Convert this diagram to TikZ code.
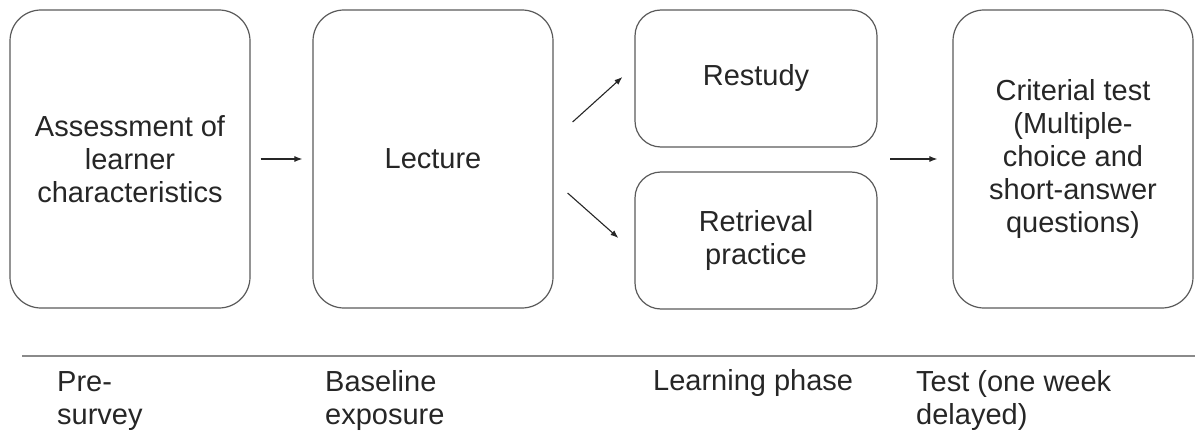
\documentclass[tikz,border=0pt]{standalone}
\usepackage{fontspec}
\setmainfont{Liberation Sans}
\usepackage{tikz}
\usetikzlibrary{arrows.meta}
\usetikzlibrary{calc}
\usetikzlibrary{positioning}
\definecolor{boxgray}{HTML}{5A5A5A}
\definecolor{txtgray}{HTML}{262626}
\definecolor{rulegray}{HTML}{8A8A8A}

\begin{document}
\begin{tikzpicture}
	[
	x=1pt, y=1pt,
	> = {Latex[length=8pt,width=6pt]},
	every node/.style={font=\fontsize{29}{33}\selectfont, text=txtgray},
	phase/.style = {draw=boxgray, line width=1.2pt, rounded corners=31pt, align=center, inner sep=0pt},
	bigbox/.style = {phase, minimum width=240pt, minimum height=298pt},
	smallbox/.style = {phase, rounded corners=26pt, minimum width=242pt, minimum height=137pt},
	label/.style = {anchor=base west, align=left, inner sep=0pt},
	arr/.style = {->, draw=txtgray, line width=1.1pt}
	]
	\useasboundingbox (0,0) rectangle (1195,432);

	\node[bigbox] (assess) at (130,273) {Assessment of\\learner\\characteristics};
	\node[bigbox] (lecture) at (433,273) {Lecture};
	\node[smallbox] (restudy) at (756,353.5) {Restudy};
	\node[smallbox] (retrieval) at (756,191.5) {Retrieval\\practice};
	\node[bigbox] (criterial) at (1073,273) {Criterial test\\(Multiple-\\choice and\\short-answer\\questions)};

	\coordinate (up-from) at ($(lecture.east)+(19,37)$);
	\coordinate (up-to) at ($(restudy.west)+(-12,1.5)$);
	\coordinate (down-from) at ($(lecture.east)+(14,-34)$);
	\coordinate (down-to) at ($(retrieval.west)+(-16,2.5)$);
	\coordinate (split) at (890,273);

	\draw[arr, shorten <=10pt, shorten >=10pt] (assess) -- (lecture);
	\draw[arr] (up-from) -- (up-to);
	\draw[arr] (down-from) -- (down-to);
	\draw[arr, shorten >=15pt] (split) -- (criterial);

	\draw[rulegray, line width=2pt] (22,76) -- (1195,76);

	\node[label] (pre) at (57,8) {Pre-\\survey};
	\node[label] (baseline) at (325,8) {Baseline\\exposure};
	\node[label] (learning) at (653,42) {Learning phase};
	\node[label] (test) at (916,8) {Test (one week\\delayed)};
\end{tikzpicture}
\end{document}
